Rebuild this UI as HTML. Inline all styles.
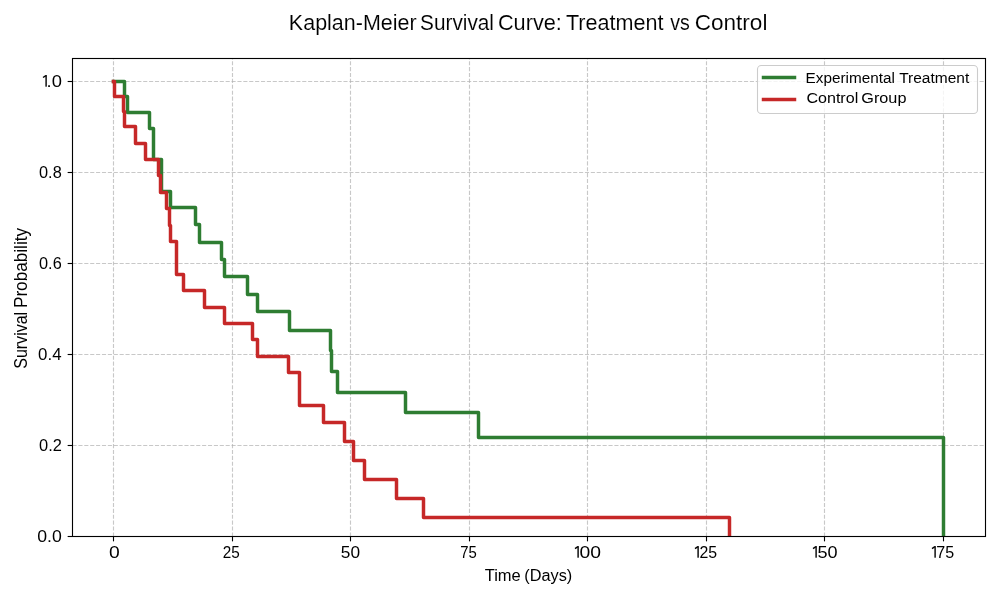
<!DOCTYPE html>
<html><head><meta charset="utf-8"><style>
html,body{margin:0;padding:0;background:#fff;}
body{width:1000px;height:600px;overflow:hidden;}
.t{}
.tt{stroke:#fff;stroke-width:0.1px;}
svg{display:block;font-family:"Liberation Sans",sans-serif;will-change:transform;}
</style></head><body>
<svg width="1000" height="600" viewBox="0 0 1000 600">
<rect x="0" y="0" width="1000" height="600" fill="#fff"/>
<g stroke="#b0b0b0" stroke-opacity="0.7" stroke-width="1.11" stroke-dasharray="4.11 1.78" fill="none">
<line x1="113.5" y1="536.5" x2="113.5" y2="58.5"/>
<line x1="232.5" y1="536.5" x2="232.5" y2="58.5"/>
<line x1="350.5" y1="536.5" x2="350.5" y2="58.5"/>
<line x1="469.5" y1="536.5" x2="469.5" y2="58.5"/>
<line x1="587.5" y1="536.5" x2="587.5" y2="58.5"/>
<line x1="706.5" y1="536.5" x2="706.5" y2="58.5"/>
<line x1="824.5" y1="536.5" x2="824.5" y2="58.5"/>
<line x1="943.5" y1="536.5" x2="943.5" y2="58.5"/>
<line x1="72.5" y1="536.5" x2="985.5" y2="536.5"/>
<line x1="72.5" y1="445.5" x2="985.5" y2="445.5"/>
<line x1="72.5" y1="354.5" x2="985.5" y2="354.5"/>
<line x1="72.5" y1="263.5" x2="985.5" y2="263.5"/>
<line x1="72.5" y1="172.5" x2="985.5" y2="172.5"/>
<line x1="72.5" y1="81.5" x2="985.5" y2="81.5"/>
</g>
<defs><clipPath id="ax"><rect x="72.5" y="58.3" width="913.1" height="478.0"/></clipPath></defs>
<g clip-path="url(#ax)" fill="none" stroke-width="3.47" stroke-linejoin="round" stroke-linecap="square">
<polyline points="113.5,81.5 124.5,81.5 124.5,96.5 127.5,96.5 127.5,112.5 149.5,112.5 149.5,128.5 153.5,128.5 153.5,159.5 161.5,159.5 161.5,191.5 170.5,191.5 170.5,207.5 195.5,207.5 195.5,224.5 199.5,224.5 199.5,242.5 221.5,242.5 221.5,259.5 224.5,259.5 224.5,276.5 247.5,276.5 247.5,294.5 257.5,294.5 257.5,311.5 289.5,311.5 289.5,330.5 330.5,330.5 330.5,350.5 331.5,350.5 331.5,371.5 337.5,371.5 337.5,392.5 405.5,392.5 405.5,412.5 478.5,412.5 478.5,437.5 943.5,437.5 943.5,536.5" stroke="#2e7d32"/>
<polyline points="113.5,81.5 114.5,81.5 114.5,96.5 123.5,96.5 123.5,111.5 124.5,111.5 124.5,126.5 135.5,126.5 135.5,143.5 145.5,143.5 145.5,159.5 158.5,159.5 158.5,175.5 160.5,175.5 160.5,192.5 166.5,192.5 166.5,208.5 169.5,208.5 169.5,225.5 170.5,225.5 170.5,241.5 176.5,241.5 176.5,274.5 183.5,274.5 183.5,290.5 204.5,290.5 204.5,307.5 224.5,307.5 224.5,323.5 252.5,323.5 252.5,339.5 257.5,339.5 257.5,356.5 288.5,356.5 288.5,372.5 299.5,372.5 299.5,405.5 323.5,405.5 323.5,422.5 344.5,422.5 344.5,441.5 353.5,441.5 353.5,460.5 364.5,460.5 364.5,479.5 396.5,479.5 396.5,498.5 423.5,498.5 423.5,517.5 729.5,517.5 729.5,536.5" stroke="#c62828"/>
</g>
<rect x="72.5" y="58.5" width="913.0" height="478.0" fill="none" stroke="#000" stroke-width="1.11"/>
<g stroke="#000" stroke-width="1.11">
<line x1="113.5" y1="536.5" x2="113.5" y2="541.36"/>
<line x1="232.5" y1="536.5" x2="232.5" y2="541.36"/>
<line x1="350.5" y1="536.5" x2="350.5" y2="541.36"/>
<line x1="469.5" y1="536.5" x2="469.5" y2="541.36"/>
<line x1="587.5" y1="536.5" x2="587.5" y2="541.36"/>
<line x1="706.5" y1="536.5" x2="706.5" y2="541.36"/>
<line x1="824.5" y1="536.5" x2="824.5" y2="541.36"/>
<line x1="943.5" y1="536.5" x2="943.5" y2="541.36"/>
<line x1="67.64" y1="536.5" x2="72.5" y2="536.5"/>
<line x1="67.64" y1="445.5" x2="72.5" y2="445.5"/>
<line x1="67.64" y1="354.5" x2="72.5" y2="354.5"/>
<line x1="67.64" y1="263.5" x2="72.5" y2="263.5"/>
<line x1="67.64" y1="172.5" x2="72.5" y2="172.5"/>
<line x1="67.64" y1="81.5" x2="72.5" y2="81.5"/>
</g>
<text x="108.98" y="557.63" font-size="16.62" textLength="10.72" lengthAdjust="spacingAndGlyphs" fill="#000" class="t">0</text>
<text x="222.84" y="557.63" font-size="16.62" textLength="17.01" lengthAdjust="spacingAndGlyphs" fill="#000" class="t">25</text>
<text x="340.81" y="557.63" font-size="16.62" textLength="19.22" lengthAdjust="spacingAndGlyphs" fill="#000" class="t">50</text>
<text x="460.15" y="557.63" font-size="16.86" textLength="16.58" lengthAdjust="spacingAndGlyphs" fill="#000" class="t">75</text>
<text x="579.43" y="557.63" font-size="16.62" textLength="21.49" lengthAdjust="spacingAndGlyphs" fill="#000" class="t">00</text>
<text x="699.41" y="557.63" font-size="16.62" textLength="17.67" lengthAdjust="spacingAndGlyphs" fill="#000" class="t">25</text>
<text x="817.48" y="557.63" font-size="16.62" textLength="20.09" lengthAdjust="spacingAndGlyphs" fill="#000" class="t">50</text>
<text x="936.30" y="557.63" font-size="16.86" textLength="17.88" lengthAdjust="spacingAndGlyphs" fill="#000" class="t">75</text>
<text x="37.19" y="541.53" font-size="16.62" textLength="24.57" lengthAdjust="spacingAndGlyphs" fill="#000" class="t">0.0</text>
<text x="39.04" y="450.53" font-size="16.62" textLength="22.83" lengthAdjust="spacingAndGlyphs" fill="#000" class="t">0.2</text>
<text x="38.13" y="359.53" font-size="16.62" textLength="23.43" lengthAdjust="spacingAndGlyphs" fill="#000" class="t">0.4</text>
<text x="39.05" y="268.53" font-size="16.62" textLength="22.66" lengthAdjust="spacingAndGlyphs" fill="#000" class="t">0.6</text>
<text x="39.05" y="177.53" font-size="16.62" textLength="22.66" lengthAdjust="spacingAndGlyphs" fill="#000" class="t">0.8</text>
<text x="46.55" y="86.53" font-size="16.62" textLength="15.31" lengthAdjust="spacingAndGlyphs" fill="#000" class="t">.0</text>
<g fill="#000"><rect x="577.40" y="546.05" width="1.4" height="11.65"/><line x1="575.00" y1="548.55" x2="577.90" y2="546.60" stroke="#000" stroke-width="1.4"/><rect x="697.40" y="546.05" width="1.4" height="11.65"/><line x1="695.00" y1="548.55" x2="697.90" y2="546.60" stroke="#000" stroke-width="1.4"/><rect x="815.40" y="546.05" width="1.4" height="11.65"/><line x1="813.00" y1="548.55" x2="815.90" y2="546.60" stroke="#000" stroke-width="1.4"/><rect x="934.40" y="546.05" width="1.4" height="11.65"/><line x1="932.00" y1="548.55" x2="934.90" y2="546.60" stroke="#000" stroke-width="1.4"/><rect x="45.40" y="75.00" width="1.4" height="11.70"/><line x1="43.00" y1="77.50" x2="45.90" y2="75.55" stroke="#000" stroke-width="1.4"/></g>
<g class="tt"><text x="288.88" y="29.70" font-size="21.37" textLength="127.69" lengthAdjust="spacingAndGlyphs" fill="#000" class="t">Kaplan-Meier</text><text x="420.06" y="29.70" font-size="21.37" textLength="73.93" lengthAdjust="spacingAndGlyphs" fill="#000" class="t">Survival</text><text x="497.91" y="29.70" font-size="21.37" textLength="63.96" lengthAdjust="spacingAndGlyphs" fill="#000" class="t">Curve:</text><text x="565.97" y="29.70" font-size="21.37" textLength="97.45" lengthAdjust="spacingAndGlyphs" fill="#000" class="t">Treatment</text><text x="670.30" y="29.70" font-size="21.37" textLength="19.58" lengthAdjust="spacingAndGlyphs" fill="#000" class="t">vs</text><text x="694.67" y="29.70" font-size="21.37" textLength="72.77" lengthAdjust="spacingAndGlyphs" fill="#000" class="t">Control</text></g>
<text x="484.67" y="580.90" font-size="17.30" textLength="36.08" lengthAdjust="spacingAndGlyphs" fill="#000" class="t">Time</text><text x="524.32" y="580.90" font-size="17.30" textLength="47.98" lengthAdjust="spacingAndGlyphs" fill="#000" class="t">(Days)</text>
<text transform="translate(26.90,368.80) rotate(-90)" x="0" y="0" font-size="17.44" textLength="56.97" lengthAdjust="spacingAndGlyphs" fill="#000" class="t">Survival</text><text transform="translate(26.90,308.07) rotate(-90)" x="0" y="0" font-size="17.44" textLength="80.16" lengthAdjust="spacingAndGlyphs" fill="#000" class="t">Probability</text>
<rect x="757.5" y="65.5" width="220" height="48" rx="3.8" ry="3.8" fill="#fff" fill-opacity="0.8" stroke="#cccccc" stroke-width="1.1"/>
<line x1="763.5" y1="77.5" x2="794.5" y2="77.5" stroke="#2e7d32" stroke-width="3.47" stroke-linecap="square"/>
<line x1="763.5" y1="99.5" x2="794.5" y2="99.5" stroke="#c62828" stroke-width="3.47" stroke-linecap="square"/>
<text x="805.58" y="83.05" font-size="15.33" textLength="89.33" lengthAdjust="spacingAndGlyphs" fill="#000" class="t">Experimental</text><text x="899.19" y="83.05" font-size="15.33" textLength="70.07" lengthAdjust="spacingAndGlyphs" fill="#000" class="t">Treatment</text>
<text x="806.40" y="103.40" font-size="15.33" textLength="51.83" lengthAdjust="spacingAndGlyphs" fill="#000" class="t">Control</text><text x="861.29" y="103.40" font-size="15.33" textLength="45.15" lengthAdjust="spacingAndGlyphs" fill="#000" class="t">Group</text>
</svg>
</body></html>
